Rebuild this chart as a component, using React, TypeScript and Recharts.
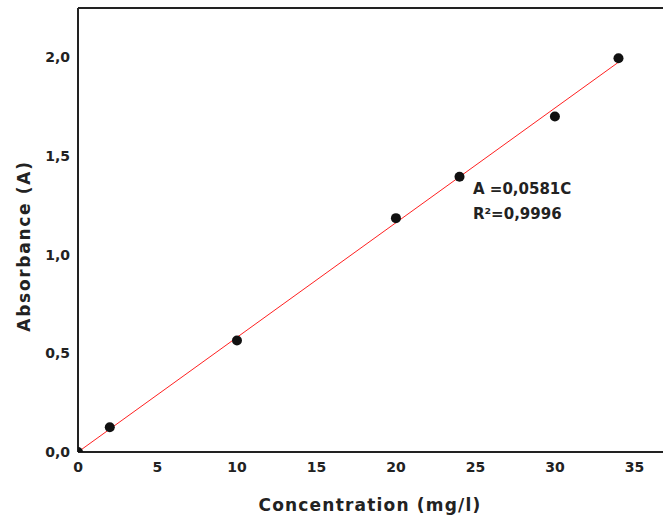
import { ComposedChart, Line, Scatter, XAxis, YAxis, ReferenceLine } from 'recharts';

// measured calibration points
const concentrations = [0, 2, 10, 20, 24, 30, 34];
const absorbances = [0, 0.125, 0.565, 1.185, 1.395, 1.7, 1.995];

// linear fit A = 0.0581 C
const slope = 0.0581;
const fitRange = [0, 34];

const xTicks = [0, 5, 10, 15, 20, 25, 30, 35];
const yTicks = [0, 0.5, 1, 1.5, 2];

const points = concentrations.map((c, i) => ({ x: c, y: absorbances[i] }));
const fitLine = fitRange.map(c => ({ x: c, y: slope * c }));

const font = '"DejaVu Sans", Verdana, sans-serif';
const titleStyle = { fill: '#222', fontSize: 17, fontWeight: 'bold', fontFamily: font } as const;

const Dot = (props: any) => <circle cx={props.cx} cy={props.cy} r={5} fill="#111" />;

export default function App() {
  return (
    <div style={{ position: 'absolute', left: 0, top: 0, width: 663, height: 519, background: '#fff', fontFamily: font }}>
      <ComposedChart width={663} height={519} margin={{ top: 8, right: 0, bottom: 0, left: 0 }}>
        <XAxis
          type="number"
          dataKey="x"
          domain={[0, 36.8]}
          ticks={xTicks}
          allowDataOverflow
          tickLine={false}
          tickSize={0}
          tickMargin={10}
          height={67}
          axisLine={{ stroke: '#222', strokeWidth: 2 }}
          tick={{ fill: '#222', fontSize: 14, fontWeight: 'bold', fontFamily: font }}
          label={{
            content: () => (
              <text x={370} y={505} textAnchor="middle" dominantBaseline="central" style={{ ...titleStyle, letterSpacing: 1.2 }}>
                Concentration (mg/l)
              </text>
            ),
          }}
        />
        <YAxis
          type="number"
          dataKey="y"
          domain={[0, 2.25]}
          ticks={yTicks}
          allowDataOverflow
          tickLine={false}
          tickSize={0}
          tickMargin={8}
          width={78}
          axisLine={{ stroke: '#222', strokeWidth: 2 }}
          tickFormatter={(v: number) => v.toFixed(1).replace('.', ',')}
          tick={{ fill: '#222', fontSize: 14, fontWeight: 'bold', fontFamily: font }}
          label={{
            content: () => (
              <text transform="translate(24,246) rotate(-90)" textAnchor="middle" dominantBaseline="central" style={{ ...titleStyle, letterSpacing: 1.7 }}>
                Absorbance (A)
              </text>
            ),
          }}
        />
        <ReferenceLine y={2.25} stroke="#222" strokeWidth={2} ifOverflow="visible" />
        <Line
          data={fitLine}
          dataKey="y"
          type="linear"
          stroke="#ff2020"
          strokeWidth={1}
          dot={false}
          activeDot={false}
          isAnimationActive={false}
        />
        <Scatter data={points} dataKey="y" fill="#111" shape={Dot} isAnimationActive={false} />
      </ComposedChart>
      <div style={{ position: 'absolute', left: 473, top: 177, fontSize: 15, fontWeight: 'bold', color: '#222', lineHeight: '25px' }}>
        <div>A =0,0581C</div>
        <div>R²=0,9996</div>
      </div>
    </div>
  );
}
